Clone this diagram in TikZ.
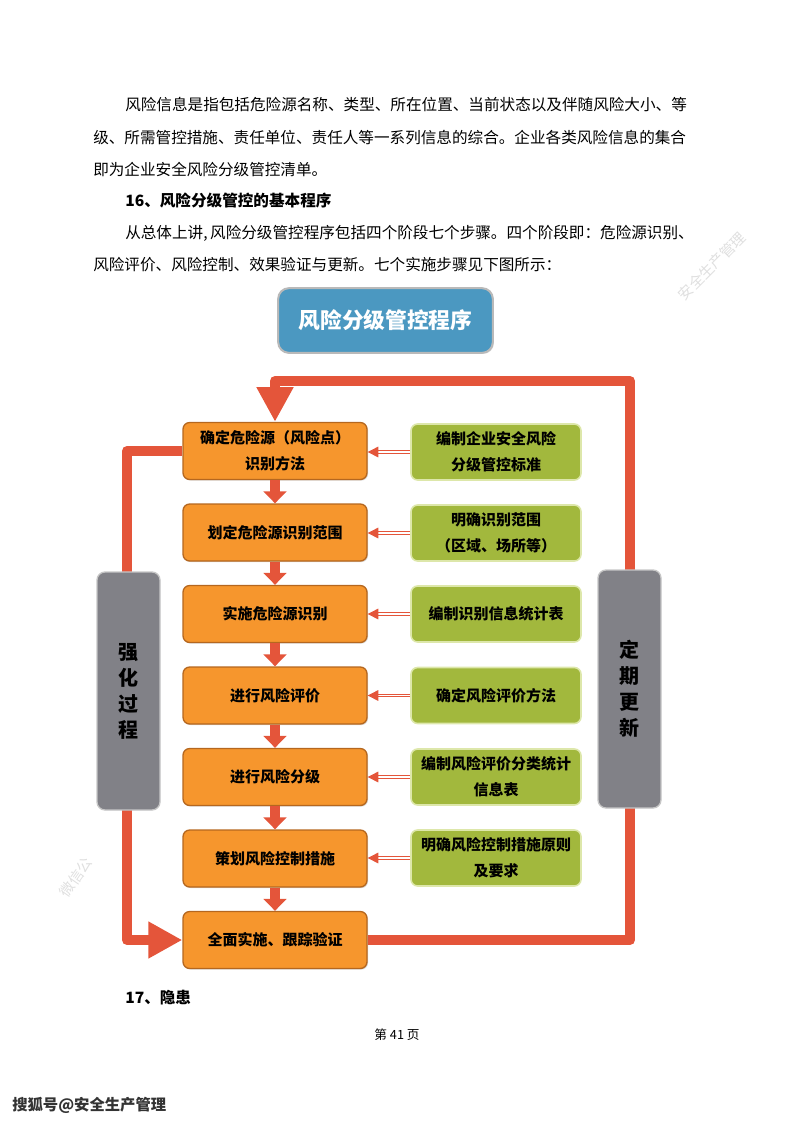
\documentclass[tikz,border=0pt]{standalone}
\usepackage{fontspec}
\setmainfont{Noto Sans CJK SC}
\usepackage{xcolor}
\usetikzlibrary{shapes,arrows.meta,positioning,shadows,backgrounds,calc}

\definecolor{loopred}{HTML}{E4553A}
\definecolor{boxorange}{HTML}{F6962D}
\definecolor{boxorangeedge}{HTML}{B5671F}
\definecolor{boxgreen}{HTML}{A2B83D}
\definecolor{boxgreenedge}{HTML}{DDE7AA}
\definecolor{sidegray}{HTML}{818187}
\definecolor{titleblue}{HTML}{4B98C1}

\begin{document}
\begin{tikzpicture}[x=0.75pt, y=-0.75pt,
    para/.style={anchor=west, inner sep=0pt, font=\fontsize{11.7}{14}\selectfont},
    stepbox/.style={rectangle, draw=boxorangeedge, line width=1pt, fill=boxorange, rounded corners=5pt, minimum width=138pt, minimum height=42.75pt, align=center, font=\fontsize{11.25}{19.5}\selectfont\bfseries, drop shadow={shadow xshift=0.8pt, shadow yshift=-0.8pt, opacity=0.3}},
    inputbox/.style={rectangle, draw=boxgreenedge, line width=1.2pt, fill=boxgreen, rounded corners=5pt, minimum width=127.5pt, minimum height=42pt, align=center, font=\fontsize{11.25}{19.5}\selectfont\bfseries},
    sidebox/.style={rectangle, draw=gray!45, line width=1pt, fill=sidegray, rounded corners=6pt, minimum width=47.25pt, minimum height=178.5pt, align=center, font=\fontsize{15}{19.5}\selectfont\bfseries},
    loopline/.style={draw=loopred, line width=7.5pt, line join=round},
    flowdown/.style={draw=loopred, line width=7.5pt, -{Triangle[length=9pt, width=17pt]}},
    feed/.style={draw=loopred, line width=0.8pt, double=white, double distance=1.3pt, -{Triangle[length=8pt, width=8pt]}}
]
    \useasboundingbox (0,0) rectangle (793,1122);

    % Text above the chart
    \node[para] (para-l1) at (125,105) {风险信息是指包括危险源名称、类型、所在位置、当前状态以及伴随风险大小、等};
    \node[para] (para-l2) at (93,138) {级、所需管控措施、责任单位、责任人等一系列信息的综合。企业各类风险信息的集合};
    \node[para] (para-l3) at (93,170) {即为企业安全风险分级管控清单。};
    \node[para, font=\fontsize{11.7}{14}\selectfont\bfseries] (para-head) at (125,201) {16、风险分级管控的基本程序};
    \node[para] (para-l5) at (125,233) {从总体上讲,\,风险分级管控程序包括四个阶段七个步骤。四个阶段即：危险源识别、};
    \node[para] (para-l6) at (93,265) {风险评价、风险控制、效果验证与更新。七个实施步骤见下图所示：};

    % Title
    \node[rectangle, draw=gray!55, line width=1.5pt, fill=titleblue, rounded corners=8pt, minimum width=161pt, minimum height=48.5pt, text=white, font=\fontsize{16.3}{18}\selectfont\bfseries, drop shadow={shadow xshift=0.8pt, shadow yshift=-0.8pt, opacity=0.3}] (title) at (385.5,320.5) {风险分级管控程序};

    % Steps
    \node[stepbox] (step1) at (275,451) {确定危险源（风险点）\\识别方法};
    \node[stepbox] (step2) at (275,532.5) {划定危险源识别范围};
    \node[stepbox] (step3) at (275,614) {实施危险源识别};
    \node[stepbox] (step4) at (275,695.5) {进行风险评价};
    \node[stepbox] (step5) at (275,777) {进行风险分级};
    \node[stepbox] (step6) at (275,858.5) {策划风险控制措施};
    \node[stepbox] (step7) at (275,940) {全面实施、跟踪验证};

    % Inputs
    \node[inputbox] (input1) at (496,452) {编制企业安全风险\\分级管控标准};
    \node[inputbox] (input2) at (496,533) {明确识别范围\\（区域、场所等）};
    \node[inputbox] (input3) at (496,614) {编制识别信息统计表};
    \node[inputbox] (input4) at (496,695.5) {确定风险评价方法};
    \node[inputbox] (input5) at (496,777) {编制风险评价分类统计\\信息表};
    \node[inputbox] (input6) at (496,858) {明确风险控制措施原则\\及要求};

    % Side labels
    \node[sidebox] (side-left) at (128.5,691) {强\\化\\过\\程};
    \node[sidebox] (side-right) at (629.5,689) {定\\期\\更\\新};

    % Loops
    \begin{scope}[on background layer]
        \draw[loopline, -{Triangle[length=26pt, width=26pt]}] (step7.east) -- (630,940) -- (630,381) -- (step1.north |- 0,381) -- (step1.north);
        \draw[loopline, -{Triangle[length=25.5pt, width=26pt]}] (step1.west) -- (127,451) -- (127,940) -- (step7.west);
    \end{scope}

    % Flow
    \draw[flowdown] (step1) -- (step2);
    \draw[flowdown] (step2) -- (step3);
    \draw[flowdown] (step3) -- (step4);
    \draw[flowdown] (step4) -- (step5);
    \draw[flowdown] (step5) -- (step6);
    \draw[flowdown] (step6) -- (step7);

    \draw[feed] (input1.west) -- (step1.east |- input1.west);
    \draw[feed] (input2.west) -- (step2.east |- input2.west);
    \draw[feed] (input3.west) -- (step3.east |- input3.west);
    \draw[feed] (input4.west) -- (step4.east |- input4.west);
    \draw[feed] (input5.west) -- (step5.east |- input5.west);
    \draw[feed] (input6.west) -- (step6.east |- input6.west);

    % Below the chart
    \node[para, font=\fontsize{11.7}{14}\selectfont\bfseries] (para-next) at (125,998) {17、隐患};
    \node[font=\fontsize{9.5}{11}\selectfont, inner sep=0pt] (page-no) at (397,1035) {第 41 页};
    \node[para, font=\fontsize{11.5}{13}\selectfont\bfseries, text=black!80] (source) at (12,1105) {搜狐号@安全生产管理};

    % Watermarks
    \node[rotate=45, inner sep=0pt, text=gray!25, font=\fontsize{11}{13}\selectfont] (mark-right) at (712,266) {安全生产管理};
    \node[rotate=55, inner sep=0pt, text=gray!25, font=\fontsize{11}{13}\selectfont] (mark-left) at (76,877) {微信公};
\end{tikzpicture}
\end{document}
